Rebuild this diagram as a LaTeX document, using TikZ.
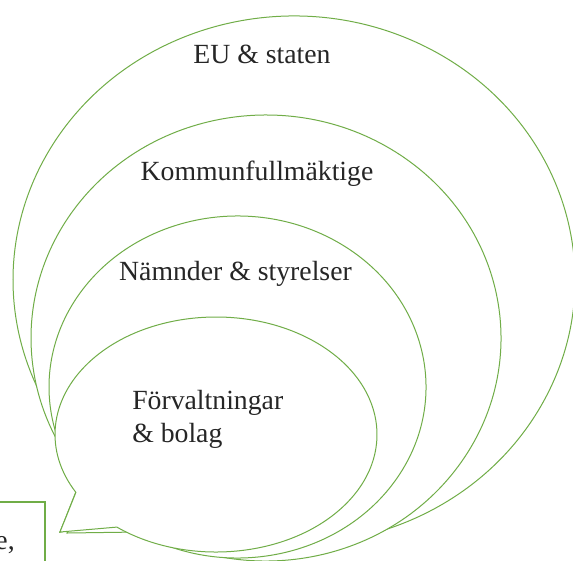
\documentclass[tikz,border=0pt]{standalone}
\usepackage{fontspec}
\setmainfont{Liberation Serif}
\definecolor{bubblegreen}{RGB}{112,173,71}
\definecolor{labelgray}{RGB}{38,38,38}

\begin{document}
\begin{tikzpicture}[x=0.75pt,y=0.75pt,yscale=-1,xscale=1,
  bubble/.style={draw=bubblegreen,fill=white,line width=0.75pt},
  frame/.style={draw=bubblegreen,line width=1.5pt},
  lbl/.style={text=labelgray,font=\fontsize{20.8}{25}\selectfont,inner sep=0pt}]
\useasboundingbox (0,0) rectangle (573,560);

%Shape: Callout (EU)
\draw[bubble] (60,532) -- ([shift={(294,280)}]118:281 and 264) arc[start angle=118,end angle=-223,x radius=281,y radius=264] -- cycle;
%Shape: Callout (Kommunfullmaktige)
\draw[bubble] (60,532) -- ([shift={(266,338)}]125:235 and 223) arc[start angle=125,end angle=-219,x radius=235,y radius=223] -- cycle;
%Shape: Callout (Namnder)
\draw[bubble] (67,533) -- ([shift={(237.5,387)}]122:188.5 and 171) arc[start angle=122,end angle=-213.4,x radius=188.5,y radius=171] -- cycle;
%Shape: Callout (Forvaltningar)
\draw[bubble] (60,532) -- ([shift={(216,434.5)}]128:161 and 117.5) arc[start angle=128,end angle=-209.5,x radius=161,y radius=117.5] -- cycle;

%Shape: Rectangle
\draw[frame] (-10,502) rectangle (45,580);

% Text Node
\node[lbl,anchor=base] (eu) at (262,63) {EU \& staten};
% Text Node
\node[lbl,anchor=base] (kf) at (257,180) {Kommunfullmäktige};
% Text Node
\node[lbl,anchor=base] (nam) at (235.5,280) {Nämnder \& styrelser};
% Text Node
\node[lbl,anchor=base west] (forv) at (132,409) {Förvaltningar};
\node[lbl,anchor=base west] (bol) at (132,442) {\& bolag};
% Text Node
\node[lbl,anchor=base east] (cut) at (15,549) {e,};

\end{tikzpicture}
\end{document}
